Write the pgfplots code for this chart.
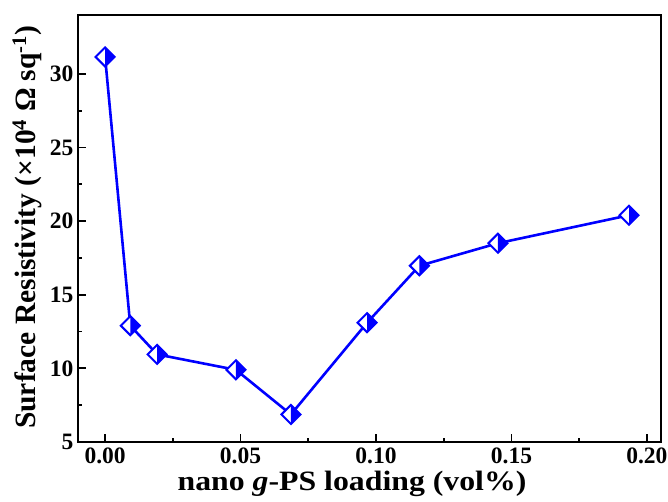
\documentclass[border=0pt]{standalone}
\usepackage{pgfplots}
\pgfplotsset{compat=1.18}
\usepackage{fontspec}
\setmainfont{Liberation Serif}
\pgfdeclareplotmark{halfdiamond}{%
  \pgfsetfillcolor{white}%
  \pgfpathmoveto{\pgfqpoint{0pt}{\pgfplotmarksize}}%
  \pgfpathlineto{\pgfqpoint{\pgfplotmarksize}{0pt}}%
  \pgfpathlineto{\pgfqpoint{0pt}{-\pgfplotmarksize}}%
  \pgfpathlineto{\pgfqpoint{-\pgfplotmarksize}{0pt}}%
  \pgfpathclose
  \pgfusepathqfill
  \pgfsetfillcolor{blue}%
  \pgfpathmoveto{\pgfqpoint{0pt}{\pgfplotmarksize}}%
  \pgfpathlineto{\pgfqpoint{\pgfplotmarksize}{0pt}}%
  \pgfpathlineto{\pgfqpoint{0pt}{-\pgfplotmarksize}}%
  \pgfpathclose
  \pgfusepathqfill
  \pgfpathmoveto{\pgfqpoint{0pt}{\pgfplotmarksize}}%
  \pgfpathlineto{\pgfqpoint{\pgfplotmarksize}{0pt}}%
  \pgfpathlineto{\pgfqpoint{0pt}{-\pgfplotmarksize}}%
  \pgfpathlineto{\pgfqpoint{-\pgfplotmarksize}{0pt}}%
  \pgfpathclose
  \pgfusepathqstroke
}
\pgfplotstableread{
x y
0.0000 31.15
0.0093 12.90
0.0192 10.95
0.0483 9.90
0.0686 6.87
0.0967 13.10
0.1160 16.97
0.1450 18.50
0.1934 20.40
}\datatable
\begin{document}
\begin{tikzpicture}
\useasboundingbox (-78pt,-60pt) rectangle (590pt,442pt);
\begin{axis}[
  scale only axis,
  width=583pt, height=427pt,
  xmin=-0.01, xmax=0.2052,
  ymin=5, ymax=34,
  xtick={0,0.05,0.10,0.15,0.20},
  ytick={5,10,15,20,25,30},
  minor x tick num=1,
  minor y tick num=1,
  tick align=inside,
  xtick pos=bottom, ytick pos=left,
  major tick length=8pt, minor tick length=4pt,
  every tick/.style={black, line width=1.8pt},
  axis line style={line width=2.6pt},
  /pgf/number format/assume math mode=true,
  xticklabel style={/pgf/number format/fixed, /pgf/number format/fixed zerofill, /pgf/number format/precision=2},
  ticklabel style={font=\bfseries\fontsize{23.5}{26}\selectfont},
  yticklabel style={xshift=-1pt},
  xticklabel style={yshift=-2pt},
  xlabel={\scalebox{1.135}[1]{\bfseries\fontsize{28}{32}\selectfont nano \textit{g}-PS loading (vol\%)}},
  ylabel={\bfseries\fontsize{29.5}{33}\selectfont Surface Resistivity (×10\textsuperscript{4} Ω sq\textsuperscript{-1})},
  xlabel style={at={(axis description cs:0.47,-0.1135)}, anchor=base},
  ylabel style={at={(axis description cs:-0.0875,0.503)}, anchor=center},
  clip=false,
]
\addplot[blue, line width=2.6pt, mark=halfdiamond, mark size=9.5pt, mark options={line width=2pt, draw=blue}] table[x=x,y=y] {\datatable};
\end{axis}
\end{tikzpicture}
\end{document}
